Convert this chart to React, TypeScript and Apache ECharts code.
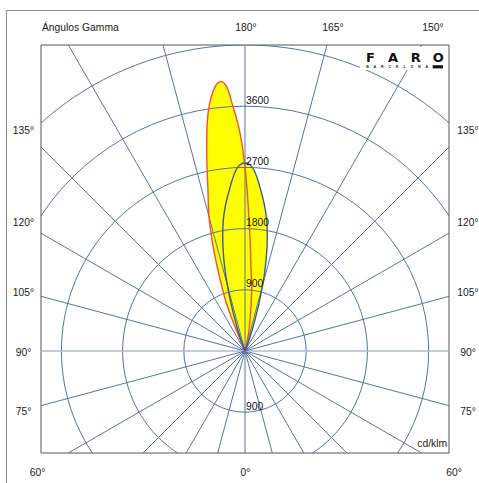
import React, { useEffect, useRef } from "react";
import * as echarts from "echarts";

// Polar grid (cd/klm rings) and radial gamma lines
const ringValues = [900, 1800, 2700, 3600, 4500, 5400];
const radialAngles = [0, 15, 30, 45, 60, 75, 90, 105, 120, 135, 150, 165, 180, 195, 210, 225, 240, 255, 270, 285, 300, 315, 330, 345];
const upperRingLabels = [900, 1800, 2700, 3600];
const lowerRingLabels = [900];

// Curve 1 (red outline) – angle from the upward (180°) direction, negative = left
const redAngles = [-23, -21.5, -19, -17, -15, -13, -11, -9, -7, -5.2, -4, -3, -2, -1, 0, 1, 2.6, 4, 6, 8, 11, 14];
const redCd = [0, 700, 1150, 1600, 2050, 2420, 2950, 3500, 3850, 3980, 3900, 3650, 3400, 3100, 2700, 2250, 1650, 1250, 940, 600, 300, 0];

// Curve 2 (blue outline)
const blueAngles = [-23, -20, -18, -16, -14, -12, -10, -8, -5.2, -2.5, 0, 2.5, 5.2, 8, 10, 12, 14, 16, 18, 20, 23];
const blueCd = [0, 200, 450, 800, 1200, 1560, 1870, 2120, 2420, 2690, 2765, 2690, 2420, 2120, 1870, 1560, 1200, 800, 450, 200, 0];

// Frame labels
const topLabels = [
  { t: "180°", x: 246 },
  { t: "165°", x: 333 },
  { t: "150°", x: 433 },
];
const sideLabels = [
  { t: "135°", y: 130 },
  { t: "120°", y: 222 },
  { t: "105°", y: 292 },
  { t: "90°", y: 352 },
  { t: "75°", y: 411 },
];
const bottomLabels = [
  { t: "60°", x: 37.5 },
  { t: "0°", x: 245.5 },
  { t: "60°", x: 454 },
];
const logoLetters = ["F", "A", "R", "O"];
const subLetters = ["B", "A", "R", "C", "E", "L", "O", "N", "A"];

const FONT = "'Liberation Sans', Arial, sans-serif";
const GRID_COLOR = "#5773a3";

function toXY(angleDeg: number, cd: number): [number, number] {
  const a = (angleDeg * Math.PI) / 180;
  return [cd * Math.sin(a), cd * Math.cos(a)];
}

function curveSeries(angles: number[], values: number[], mode: "fill" | "line", color: string, z: number) {
  return {
    type: "custom",
    z,
    silent: true,
    clip: true,
    data: [[0, 0]],
    renderItem: (_p: any, api: any) => {
      const pts = angles.map((a, i) => api.coord(toXY(a, values[i])));
      return {
        type: "polyline",
        shape: { points: pts, smooth: 0.35 },
        style:
          mode === "fill"
            ? { fill: "#ffff00", stroke: null }
            : { fill: null, stroke: color, lineWidth: 1.4 },
      };
    },
  };
}

export default function App() {
  const ref = useRef<HTMLDivElement>(null);
  useEffect(() => {
    if (!ref.current) return;
    const chart = echarts.init(ref.current, null, { renderer: "svg" });

    const graphics: any[] = [];
    graphics.push({
      type: "rect",
      z: 0,
      shape: { x: 6.5, y: 10.5, width: 520, height: 520 },
      style: { fill: "none", stroke: "#8c8c8c", lineWidth: 1 },
    });
    const txt = (t: string, x: number, y: number, align: string, size = 10.3, extra: any = {}) => ({
      type: "text",
      z: 50,
      x,
      y,
      style: {
        text: t,
        fill: "#1a1a1a",
        fontSize: size,
        fontFamily: FONT,
        align,
        verticalAlign: "middle",
        textAlign: align,
        textVerticalAlign: "middle",
        ...extra,
      },
    });
    graphics.push(txt("Ángulos Gamma", 42, 27.5, "left"));
    topLabels.forEach((l) => graphics.push(txt(l.t, l.x, 27.5, "center")));
    sideLabels.forEach((l) => {
      graphics.push(txt(l.t, 23.5, l.y, "center"));
      graphics.push(txt(l.t, 468, l.y, "center"));
    });
    bottomLabels.forEach((l) => graphics.push(txt(l.t, l.x, 472, "center")));
    graphics.push(txt("cd/klm", 447, 443.5, "right"));

    // logo
    graphics.push({
      type: "rect",
      z: 40,
      shape: { x: 360, y: 47, width: 88, height: 23 },
      style: { fill: "#ffffff" },
    });
    logoLetters.forEach((l, i) =>
      graphics.push(txt(l, 370.5 + i * 22.6, 57.5, "center", 13, { fontWeight: "bold", fill: "#111", fontFamily: "'DejaVu Sans', sans-serif" }))
    );
    subLetters.forEach((l, i) =>
      graphics.push(txt(l, 367.5 + i * 7.4, 67.2, "center", 3.6, { fontWeight: "bold", fill: "#222" }))
    );
    graphics.push({
      type: "rect",
      z: 50,
      shape: { x: 432.7, y: 65.2, width: 10.3, height: 3.2 },
      style: { fill: "#111" },
    });

    const option: any = {
      animation: false,
      backgroundColor: "#ffffff",
      grid: {
        left: 41,
        top: 45,
        width: 408,
        height: 408,
        show: true,
        borderColor: "#555555",
        borderWidth: 1,
        backgroundColor: "#ffffff",
        z: 0,
      },
      xAxis: { type: "value", min: -3000, max: 3000, show: false, splitLine: { show: false } },
      yAxis: { type: "value", min: -1500, max: 4500, show: false, splitLine: { show: false } },
      graphic: { elements: graphics },
      series: [
        curveSeries(redAngles, redCd, "fill", "#ef5236", 2),
        curveSeries(blueAngles, blueCd, "fill", "#3f5b8c", 2),
        {
          type: "custom",
          z: 3,
          silent: true,
          clip: true,
          data: ringValues.map((v) => [0, 0, v]),
          renderItem: (_p: any, api: any) => {
            const c = api.coord([0, 0]);
            const r = api.size([api.value(2), 0])[0];
            return {
              type: "circle",
              shape: { cx: c[0], cy: c[1], r },
              style: { fill: "none", stroke: GRID_COLOR, lineWidth: 1 },
            };
          },
        },
        {
          type: "custom",
          z: 3,
          silent: true,
          clip: true,
          data: radialAngles.map((a) => [0, 0, a]),
          renderItem: (_p: any, api: any) => {
            const a = api.value(2);
            const c = api.coord([0, 0]);
            // gamma 0° points down, 180° up
            const e = api.coord(toXY(180 - a, 9000));
            const horiz = a === 90 || a === 270;
            return {
              type: "line",
              shape: { x1: c[0], y1: c[1], x2: e[0], y2: e[1] },
              style: {
                stroke: horiz ? "#aebbd2" : GRID_COLOR,
                lineWidth: horiz ? 1.6 : 1,
              },
            };
          },
        },
        curveSeries(redAngles, redCd, "line", "#ef5236", 4),
        curveSeries(blueAngles, blueCd, "line", "#3f5b8c", 4),
        {
          type: "custom",
          z: 6,
          silent: true,
          data: [
            ...upperRingLabels.map((v) => [0, v, v]),
            ...lowerRingLabels.map((v) => [0, -v, v]),
          ],
          renderItem: (_p: any, api: any) => {
            const p = api.coord([api.value(0), api.value(1)]);
            return {
              type: "text",
              x: p[0] + 1,
              y: p[1] - 6,
              style: {
                text: String(api.value(2)),
                fill: "#111111",
                fontSize: 10.3,
                fontFamily: FONT,
                align: "left",
                verticalAlign: "middle",
              },
            };
          },
        },
      ],
    };
    chart.setOption(option);
    return () => chart.dispose();
  }, []);
  return (
    <div
      ref={ref}
      style={{ position: "fixed", left: 0, top: 0, width: 479, height: 483, background: "#fff" }}
    />
  );
}
